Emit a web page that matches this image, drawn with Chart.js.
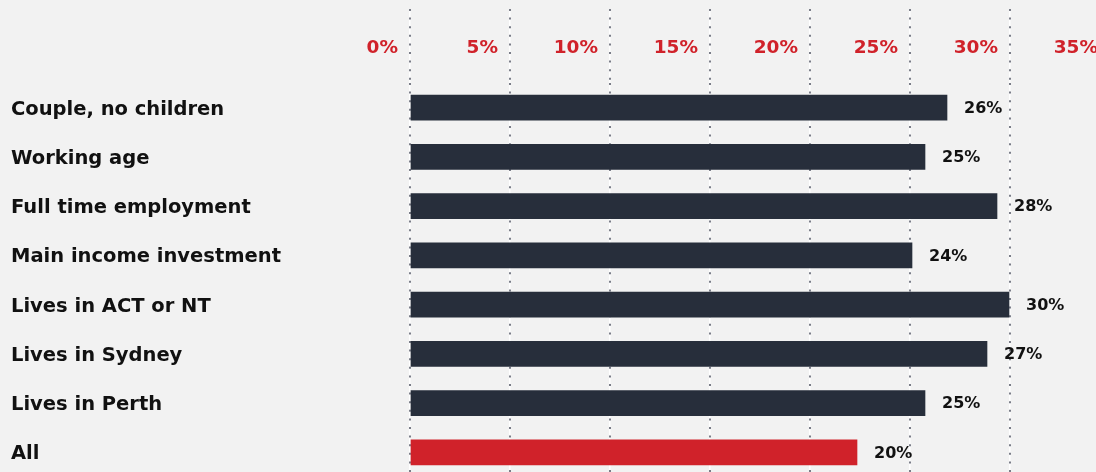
<!DOCTYPE html>
<html><head><meta charset="utf-8">
<script src="https://cdn.jsdelivr.net/npm/chart.js@4"></script>
<style>
html,body{margin:0;padding:0;background:#f2f2f2;overflow:hidden;width:1096px;height:472px;}
#wrap{position:absolute;left:0;top:0;width:1130px;height:480px;}
canvas{display:block;}
</style></head><body>
<div id="wrap"><canvas id="c" width="1130" height="480"></canvas></div>
<script>
const categories = ["Couple, no children","Working age","Full time employment","Main income investment","Lives in ACT or NT","Lives in Sydney","Lives in Perth","All"];
const shares = [26.85, 25.75, 29.35, 25.1, 29.95, 28.85, 25.75, 22.35];
const shareLabels = ["26%","25%","28%","24%","30%","27%","25%","20%"];
const tickValues = [0,5,10,15,20,25,30,35];
const highlightCategory = "All";

const DARK = '#272e3b', RED = '#d0222a', FONT = 'DejaVu Sans';
const setTicks = s => { s.ticks = tickValues.map(v => ({value: v})); };

const valueLabels = {
  id: 'valueLabels',
  afterDatasetsDraw(chart) {
    const ctx = chart.ctx;
    const meta = chart.getDatasetMeta(0);
    ctx.save();
    ctx.font = 'bold 16px "' + FONT + '"';
    ctx.fillStyle = '#111';
    ctx.textAlign = 'left';
    ctx.textBaseline = 'middle';
    meta.data.forEach((el, i) => ctx.fillText(shareLabels[i], el.x + 17, el.y + 1));
    ctx.restore();
  }
};

new Chart(document.getElementById('c'), {
  type: 'bar',
  data: {
    labels: categories,
    datasets: [{
      data: shares,
      backgroundColor: categories.map(c => c === highlightCategory ? RED : DARK),
      borderWidth: 0,
      barThickness: 25
    }]
  },
  options: {
    responsive: false, animation: false, devicePixelRatio: 1,
    indexAxis: 'y',
    layout: {padding: {left: 11, right: 20, top: 0, bottom: 3}},
    plugins: {legend: {display: false}, tooltip: {enabled: false}},
    scales: {
      x: {
        type: 'linear', position: 'top', min: 0, max: 35, weight: 1,
        afterBuildTicks: setTicks,
        afterFit: s => { s.height = 83; },
        grid: {color: '#7a7d88', lineWidth: 2, tickLength: 74, tickColor: '#7a7d88', tickWidth: 2, tickBorderDash: [2, 6.6]},
        border: {display: false, dash: [2, 6.6]},
        ticks: {align: 'end', labelOffset: -12, padding: -50, color: RED,
                font: {family: FONT, weight: 'bold', size: 18.5},
                callback: v => v + '%'}
      },
      xw: {
        type: 'linear', axis: 'x', position: 'top', min: 0, max: 35, weight: 0,
        afterBuildTicks: setTicks,
        afterFit: s => { s.height = 0; },
        grid: {color: '#ffffff', lineWidth: 1.5, tickLength: 74, tickColor: '#ffffff', tickWidth: 1.5, z: -2},
        border: {display: false},
        ticks: {display: false}
      },
      y: {
        afterFit: s => { s.width = 399; s.paddingTop = 0; s.paddingBottom = 0; },
        grid: {display: false}, border: {display: false},
        ticks: {crossAlign: 'far', padding: 0, labelOffset: 2, color: '#111',
                font: {family: FONT, weight: 'bold', size: 19.5}}
      }
    }
  },
  plugins: [valueLabels]
});
</script>
</body></html>
